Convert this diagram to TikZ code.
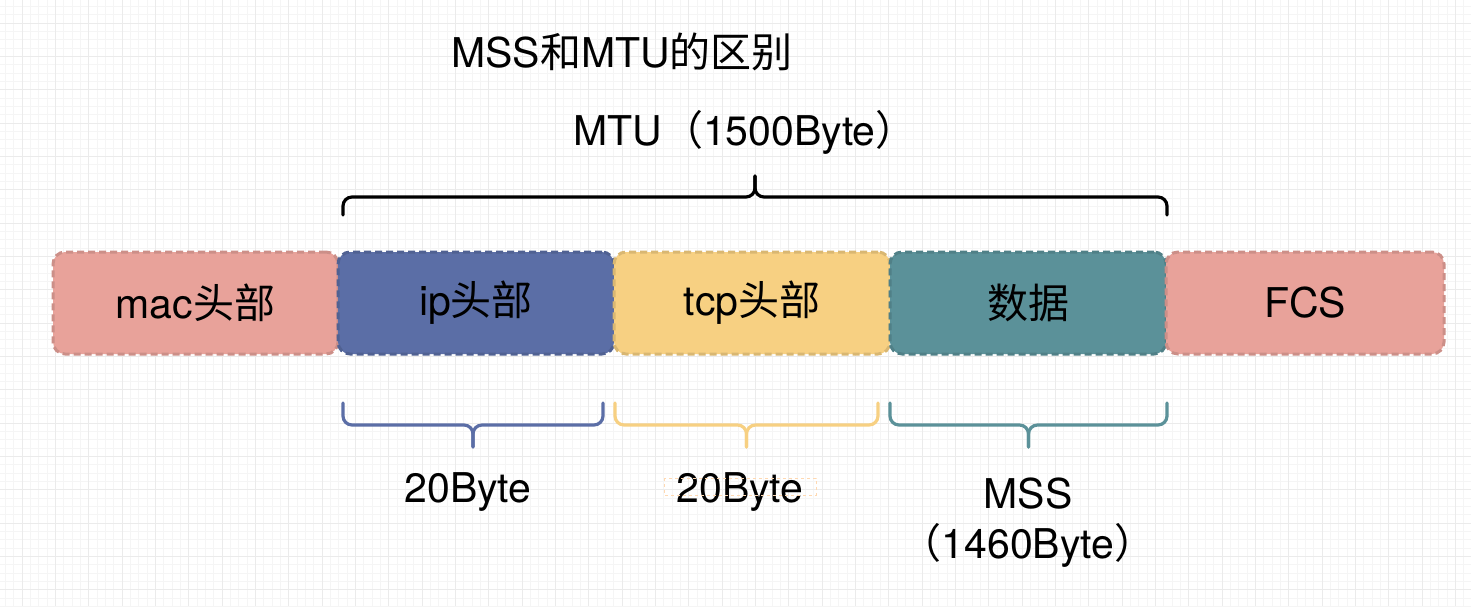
\documentclass[tikz,border=0pt]{standalone}
\usepackage{fontspec}
\setmainfont{TeX Gyre Heros}
\newfontfamily\cjk{Noto Sans CJK SC}
\usepackage{tikz}
\usetikzlibrary{positioning, calc}
\definecolor{macred}{HTML}{E8A29A}
\definecolor{ipblue}{HTML}{5B6EA6}
\definecolor{tcpyellow}{HTML}{F7D082}
\definecolor{datateal}{HTML}{5B9199}

\begin{document}
\begin{tikzpicture}[x=1pt, y=-1pt,
  seg/.style={draw=#1!88!black, fill=#1, dash pattern=on 7pt off 4pt, line width=3pt, rounded corners=12pt, minimum width=276pt, minimum height=102pt, inner sep=0pt, outer sep=0pt, font=\fontsize{41}{49}\selectfont},
  brace/.style={draw=#1, line width=3.2pt, rounded corners=9pt, line cap=round},
  lbl/.style={font=\fontsize{41}{50}\selectfont, inner sep=0pt, align=center},
  gridminor/.style={draw=black!4, line width=0.8pt},
  gridmajor/.style={draw=black!8, line width=1pt}
]
  \fill[white] (0,0) rectangle (1471,606);
  \useasboundingbox (0,0) rectangle (1471,606);

  % background grid
  \foreach \k in {0,...,176} \draw[gridminor] ({5.33+8.333*\k},0) -- ++(0,606);
  \foreach \k in {0,...,72} \draw[gridminor] (0,{6.33+8.333*\k}) -- ++(1471,0);
  \foreach \k in {0,...,43} \draw[gridmajor] ({22+33.333*\k},0) -- ++(0,606);
  \foreach \k in {0,...,17} \draw[gridmajor] (0,{23+33.333*\k}) -- ++(1471,0);

  \node[lbl] (title) at (622,52) {MSS{\cjk 和}MTU{\cjk 的区别}};
  \node[lbl] (mtu) at (745,132) {MTU{\cjk （}1500Byte{\cjk ）}};

  % frame segments
  \node[seg=macred, minimum width=285pt] (mac) at (195.5,303) {mac{\cjk 头部}};
  \node[seg=ipblue, right=0pt of mac] (ip) {ip{\cjk 头部}};
  \node[seg=tcpyellow, right=0pt of ip] (tcp) {tcp{\cjk 头部}};
  \node[seg=datateal, right=0pt of tcp] (data) {{\cjk 数据}};
  \node[seg=macred, right=0pt of data, minimum width=278pt] (fcs) {FCS};

  % MTU brace
  \coordinate (mtul) at ($(ip.north west)+(5,-37)$);
  \coordinate (mtur) at ($(data.north east)+(1,-37)$);
  \draw[brace=black] (mtul) |- ($(mtul)!0.5!(mtur)+(0,-18)$) -- ++(0,-21);
  \draw[brace=black] (mtur) |- ($(mtul)!0.5!(mtur)+(0,-18)$) -- ++(0,-21);

  % size braces
  \foreach \n/\c/\a/\b in {ip/ipblue/5/-11, tcp/tcpyellow/1/-12, data/datateal/0/1} {
    \coordinate (l) at ($(\n.south west)+(\a,49)$);
    \coordinate (r) at ($(\n.south east)+(\b,49)$);
    \draw[brace=\c] (l) |- ($(l)!0.5!(r)+(0,22)$) -- ++(0,22);
    \draw[brace=\c] (r) |- ($(l)!0.5!(r)+(0,22)$) -- ++(0,22);
  }

  \node[lbl] (ipsize) at (468,492) {20Byte};
  \node[lbl] (tcpsize) at (740,492) {20Byte};
  \draw[orange!30, dashed, line width=0.8pt] ($(tcpsize.center)+(-76,-14)$) rectangle ++(152,17);
  \node[lbl] (datasize) at (1028,523) {MSS\\{\cjk （}1460Byte{\cjk ）}};
\end{tikzpicture}
\end{document}
